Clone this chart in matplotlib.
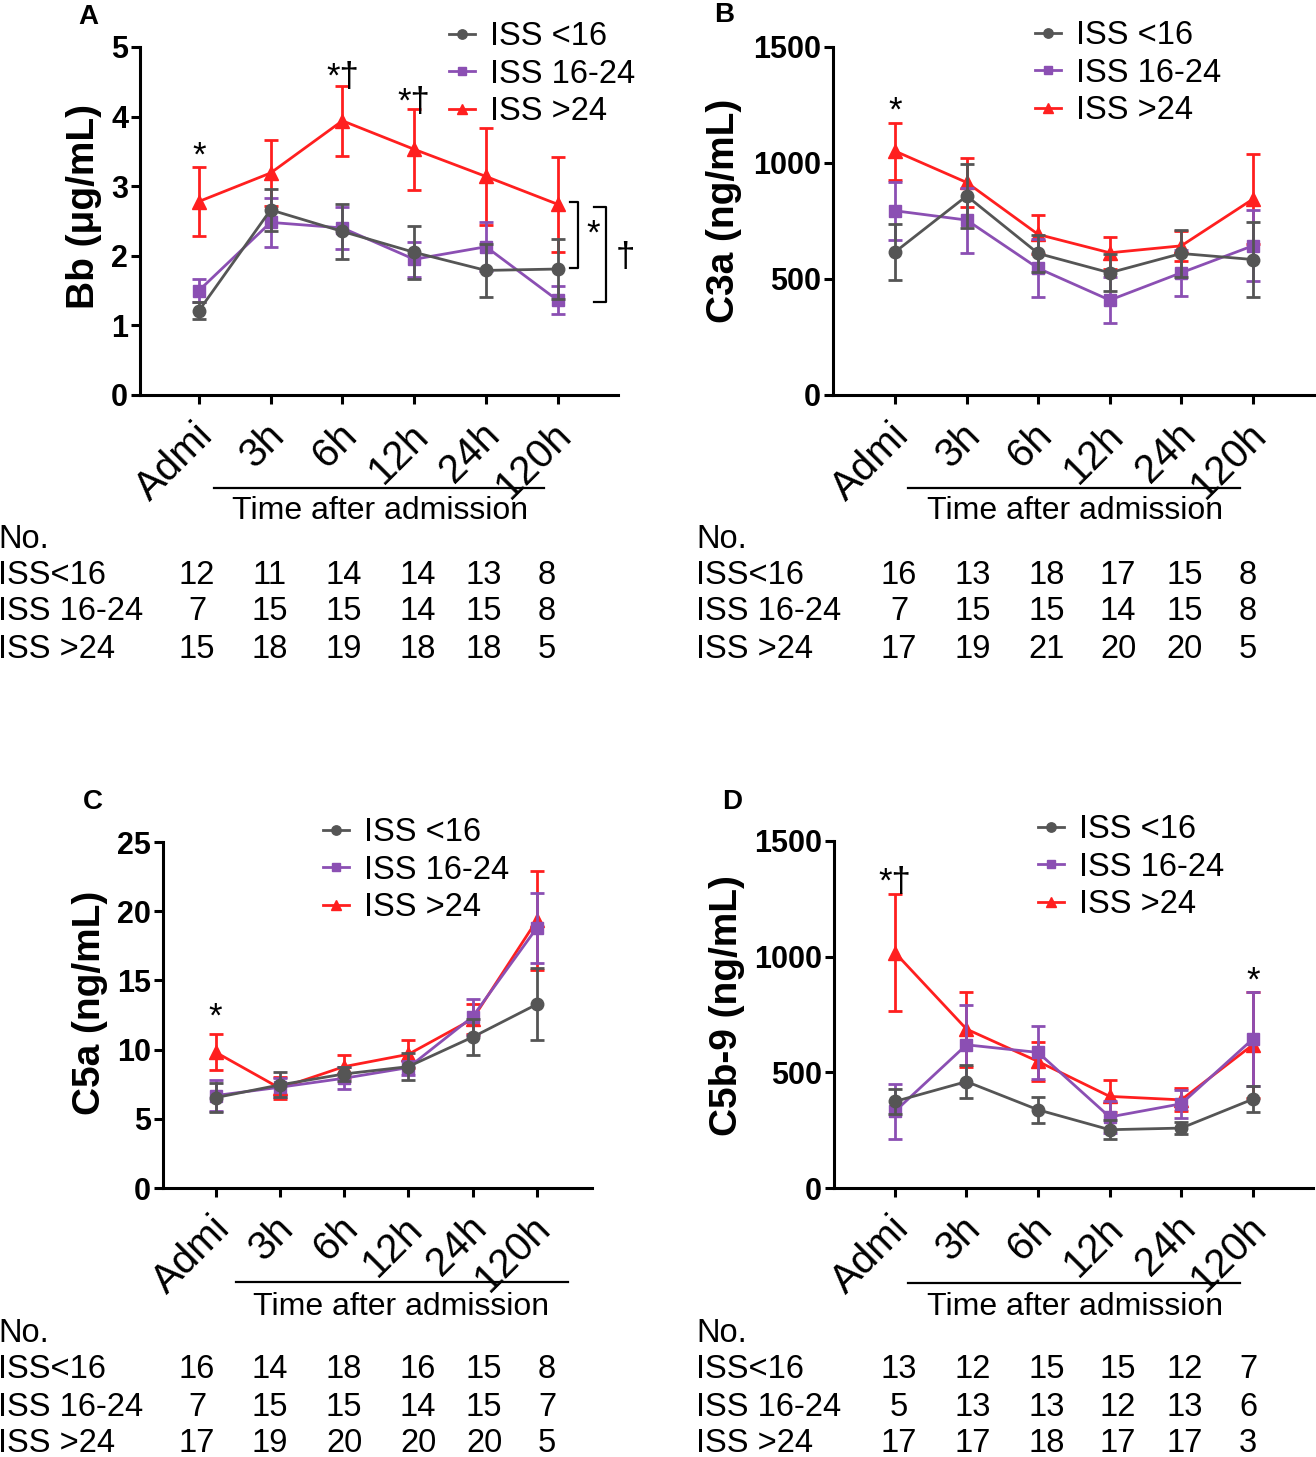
import matplotlib
matplotlib.use('Agg')
import matplotlib.pyplot as plt
import matplotlib.transforms as mtransforms
from matplotlib.lines import Line2D

plt.rcParams['font.family'] = ['Liberation Sans', 'DejaVu Sans']

W, H, DPI = 1316, 1457, 100

# ---------------- data ----------------
time_labels = ['Admi', '3h', '6h', '12h', '24h', '120h']
group_names = ['ISS <16', 'ISS 16-24', 'ISS >24']
table_row_labels = ['ISS<16', 'ISS 16-24', 'ISS >24']

# Panel A: Bb (ug/mL)
bb_low = [1.21, 2.66, 2.35, 2.05, 1.79, 1.81]
bb_low_err = [0.12, 0.30, 0.39, 0.38, 0.38, 0.43]
bb_mid = [1.50, 2.48, 2.40, 1.95, 2.13, 1.36]
bb_mid_err = [0.16, 0.35, 0.30, 0.25, 0.35, 0.20]
bb_high = [2.78, 3.19, 3.94, 3.53, 3.14, 2.74]
bb_high_err = [0.50, 0.48, 0.50, 0.58, 0.70, 0.68]
bb_n_low = [12, 11, 14, 14, 13, 8]
bb_n_mid = [7, 15, 15, 14, 15, 8]
bb_n_high = [15, 18, 19, 18, 18, 5]

# Panel B: C3a (ng/mL)
c3a_low = [617, 858, 610, 527, 610, 584]
c3a_low_err = [120, 137, 80, 80, 100, 163]
c3a_mid = [794, 754, 546, 409, 527, 643]
c3a_mid_err = [125, 140, 125, 100, 100, 153]
c3a_high = [1051, 916, 692, 613, 643, 844]
c3a_high_err = [123, 106, 86, 70, 65, 193]
c3a_n_low = [16, 13, 18, 17, 15, 8]
c3a_n_mid = [7, 15, 15, 14, 15, 8]
c3a_n_high = [17, 19, 21, 20, 20, 5]

# Panel C: C5a (ng/mL)
c5a_low = [6.53, 7.45, 8.24, 8.77, 10.9, 13.27]
c5a_low_err = [1.05, 0.9, 0.5, 1.0, 1.3, 2.6]
c5a_mid = [6.68, 7.28, 7.93, 8.70, 12.37, 18.79]
c5a_mid_err = [1.1, 0.7, 0.8, 0.5, 1.3, 2.5]
c5a_high = [9.81, 7.21, 8.77, 9.66, 12.2, 19.34]
c5a_high_err = [1.3, 0.8, 0.85, 1.0, 1.1, 3.6]
c5a_n_low = [16, 14, 18, 16, 15, 8]
c5a_n_mid = [7, 15, 15, 14, 15, 7]
c5a_n_high = [17, 19, 20, 20, 20, 5]

# Panel D: C5b-9 (ng/mL)
c5b9_low = [374, 460, 338, 252, 259, 384]
c5b9_low_err = [55, 70, 57, 40, 25, 57]
c5b9_mid = [331, 619, 586, 307, 364, 644]
c5b9_mid_err = [118, 170, 116, 70, 60, 205]
c5b9_high = [1018, 687, 547, 396, 381, 619]
c5b9_high_err = [254, 162, 83, 69, 50, 228]
c5b9_n_low = [13, 12, 15, 15, 12, 7]
c5b9_n_mid = [5, 13, 13, 12, 13, 6]
c5b9_n_high = [17, 17, 18, 17, 17, 3]

colors = ['#555555', '#8B4FB3', '#FF1F1F']
markers = ['o', 's', '^']
msizes = [9, 8.5, 9.5]

# ---------------- figure ----------------
fig = plt.figure(figsize=(W / DPI, H / DPI), dpi=DPI)
px = mtransforms.Affine2D().scale(1.0 / W, -1.0 / H).translate(0, 1) + fig.transFigure

STAR_FS = 25


def add_axes_px(left, right, top, bottom):
    return fig.add_axes([left / W, 1 - bottom / H, (right - left) / W, (bottom - top) / H])


def star(ax, x, y, s, dy=-11):
    # y is the visual centre of the asterisk
    ax.annotate(s, (x, y), xytext=(0, dy), textcoords='offset points',
                ha='center', va='baseline', fontsize=STAR_FS, annotation_clip=False)


def panel(rect, xlim, ylim, yticks, means, errs, ylabel, ylab_xy, leg_anchor,
          letter, letter_xy, tline, ttext, cols, rows_y, no_y, x0, counts):
    ax = add_axes_px(*rect)
    x = list(range(len(time_labels)))
    conts = [None, None, None]
    for i in [2, 1, 0]:
        conts[i] = ax.errorbar(x, means[i], yerr=errs[i], color=colors[i], marker=markers[i],
                               ms=msizes[i], lw=2.0, elinewidth=2.0, capsize=5, capthick=2.0,
                               clip_on=False, zorder=3 + (2 - i))
    ax.set_xlim(*xlim)
    ax.set_ylim(*ylim)
    ax.set_yticks(yticks)
    ax.set_yticklabels([str(t) for t in yticks], fontsize=22, fontweight='bold')
    ax.set_xticks(x)
    ax.set_xticklabels(time_labels, rotation=45, ha='right', va='center',
                       rotation_mode='anchor', fontsize=29)
    for sp in ['top', 'right']:
        ax.spines[sp].set_visible(False)
    for sp in ['left', 'bottom']:
        ax.spines[sp].set_linewidth(2.2)
    ax.tick_params(axis='both', width=2.2, length=6.5, direction='out')
    ax.tick_params(axis='y', pad=2)
    ax.tick_params(axis='x', pad=21)
    off = mtransforms.ScaledTranslation(8 / DPI, 4 / DPI, fig.dpi_scale_trans)
    for lab in ax.xaxis.get_majorticklabels():
        lab.set_transform(lab.get_transform() + off)
    ax.set_ylabel(ylabel, fontsize=28, fontweight='bold', va='center')
    ax.yaxis.set_label_coords(*ylab_xy)
    ax.legend([conts[i][0] for i in range(3)], group_names, loc='upper left',
              bbox_to_anchor=(leg_anchor[0] / W, 1 - leg_anchor[1] / H),
              bbox_transform=fig.transFigure, frameon=False, fontsize=23.5,
              handlelength=0.8, handletextpad=0.45, labelspacing=0.2,
              borderpad=0, borderaxespad=0, markerscale=0.75)
    fig.text(letter_xy[0], letter_xy[1], letter, transform=px, fontsize=20,
             fontweight='bold', ha='center', va='center')
    fig.add_artist(Line2D([tline[0], tline[1]], [tline[2], tline[2]], transform=px,
                          color='black', lw=1.6))
    fig.text(ttext[0], ttext[1], 'Time after admission', transform=px, fontsize=23,
             ha='center', va='center')
    fig.text(x0, no_y, 'No.', transform=px, fontsize=23.5, ha='left', va='center')
    for r in range(3):
        fig.text(x0, rows_y[r], table_row_labels[r], transform=px, fontsize=23.5,
                 ha='left', va='center')
        for c in range(len(cols)):
            fig.text(cols[c], rows_y[r], str(counts[r][c]), transform=px, fontsize=23.5,
                     ha='center', va='center')
    return ax


colsL = [197, 270, 344, 418, 484, 547]
colsR = [899, 973, 1047, 1118, 1185, 1248]

# Panel A
axA = panel((140, 618, 47, 395), (-0.82, 5.84), (0, 5), [0, 1, 2, 3, 4, 5],
            [bb_low, bb_mid, bb_high], [bb_low_err, bb_mid_err, bb_high_err],
            'Bb (\u03bcg/mL)', (-0.117, 0.543), (449, 21), 'A', (88, 17),
            (214, 544, 488), (380, 511), colsL, [575, 612, 650], 539, -2,
            [bb_n_low, bb_n_mid, bb_n_high])
star(axA, 0, 3.52, '*')
star(axA, 2, 4.64, '*\u2020')
star(axA, 3, 4.28, '*\u2020')
# brackets
axA.plot([5.17, 5.28, 5.28, 5.17], [2.78, 2.78, 1.82, 1.82], color='black', lw=1.6, clip_on=False)
axA.plot([5.51, 5.67, 5.67, 5.51], [2.70, 2.70, 1.34, 1.34], color='black', lw=1.6, clip_on=False)
star(axA, 5.50, 2.40, '*')
star(axA, 5.94, 1.98, '\u2020', dy=-7)

# Panel B
axB = panel((833, 1315, 47, 395), (-0.87, 5.87), (0, 1500), [0, 500, 1000, 1500],
            [c3a_low, c3a_mid, c3a_high], [c3a_low_err, c3a_mid_err, c3a_high_err],
            'C3a (ng/mL)', (-0.226, 0.529), (1035, 20), 'B', (724, 15),
            (908, 1240, 488), (1075, 511), colsR, [575, 612, 650], 539, 696,
            [c3a_n_low, c3a_n_mid, c3a_n_high])
star(axB, 0, 1249, '*')

# Panel C
axC = panel((163, 592, 842, 1188), (-0.82, 5.86), (0, 25), [0, 5, 10, 15, 20, 25],
            [c5a_low, c5a_mid, c5a_high], [c5a_low_err, c5a_mid_err, c5a_high_err],
            'C5a (ng/mL)', (-0.171, 0.536), (323, 817), 'C', (93, 802),
            (236, 568, 1282), (401, 1307), colsL, [1370, 1407, 1444], 1333, -2,
            [c5a_n_low, c5a_n_mid, c5a_n_high])
star(axC, 0, 12.73, '*')

# Panel D
axD = panel((834, 1313, 841, 1188), (-0.85, 5.84), (0, 1500), [0, 500, 1000, 1500],
            [c5b9_low, c5b9_mid, c5b9_high], [c5b9_low_err, c5b9_mid_err, c5b9_high_err],
            'C5b-9 (ng/mL)', (-0.223, 0.527), (1038, 814), 'D', (732, 802),
            (908, 1240, 1283), (1075, 1307), colsR, [1370, 1407, 1444], 1333, 696,
            [c5b9_n_low, c5b9_n_mid, c5b9_n_high])
star(axD, 0, 1346, '*\u2020')
star(axD, 5, 921, '*')

fig.savefig('out.png', dpi=DPI)
